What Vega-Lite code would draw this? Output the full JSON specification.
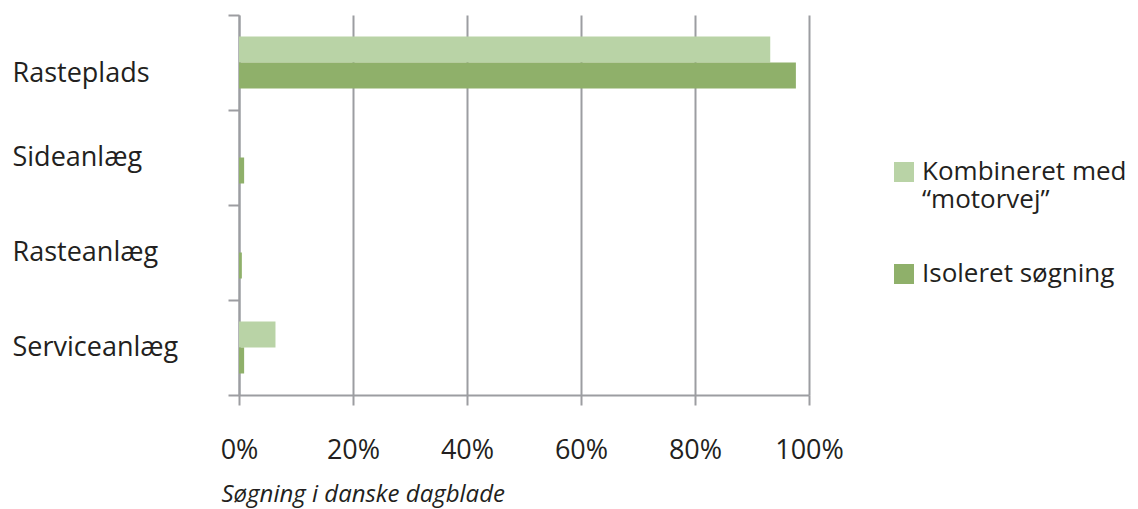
{
  "$schema": "https://vega.github.io/schema/vega-lite/v6.json",
  "width": 570,
  "height": 380,
  "autosize": "none",
  "padding": {"left": 239, "top": 15, "right": 329, "bottom": 114},
  "background": "white",
  "data": {
    "values": [
      {"kategori": "Rasteplads", "serie": "Kombineret med “motorvej”", "andel": 0.932},
      {"kategori": "Rasteplads", "serie": "Isoleret søgning", "andel": 0.977},
      {"kategori": "Sideanlæg", "serie": "Kombineret med “motorvej”", "andel": 0.0},
      {"kategori": "Sideanlæg", "serie": "Isoleret søgning", "andel": 0.009},
      {"kategori": "Rasteanlæg", "serie": "Kombineret med “motorvej”", "andel": 0.0},
      {"kategori": "Rasteanlæg", "serie": "Isoleret søgning", "andel": 0.005},
      {"kategori": "Serviceanlæg", "serie": "Kombineret med “motorvej”", "andel": 0.064},
      {"kategori": "Serviceanlæg", "serie": "Isoleret søgning", "andel": 0.009}
    ]
  },
  "mark": {"type": "bar"},
  "encoding": {
    "y": {
      "field": "kategori",
      "type": "nominal",
      "sort": ["Rasteplads", "Sideanlæg", "Rasteanlæg", "Serviceanlæg"],
      "scale": {"paddingInner": 0, "paddingOuter": 0},
      "axis": {
        "title": null,
        "tickBand": "extent",
        "domainColor": "#9c9da1",
        "domainWidth": 2,
        "tickColor": "#9c9da1",
        "tickWidth": 2,
        "tickSize": 11,
        "labelAlign": "left",
        "labelPadding": 216,
        "labelFontSize": 27,
        "labelColor": "#231f20",
        "labelLimit": 300,
        "labelOffset": {"condition": {"test": "datum.value === 'Rasteplads'", "value": 11}, "value": 0},
        "grid": false
      }
    },
    "yOffset": {
      "field": "serie",
      "sort": ["Kombineret med “motorvej”", "Isoleret søgning"],
      "scale": {"paddingInner": 0, "paddingOuter": 0.827}
    },
    "x": {
      "field": "andel",
      "type": "quantitative",
      "scale": {"domain": [0, 1]},
      "axis": {
        "values": [0, 0.2, 0.4, 0.6, 0.8, 1],
        "format": ".0%",
        "grid": true,
        "gridColor": "#9c9da1",
        "gridWidth": 2,
        "domainColor": "#9c9da1",
        "domainWidth": 2,
        "tickColor": "#9c9da1",
        "tickWidth": 2,
        "tickSize": 10,
        "labelFontSize": 27,
        "labelPadding": 32,
        "labelColor": "#231f20",
        "labelFlush": false,
        "title": "Søgning i danske dagblade",
        "titleFontStyle": "italic",
        "titleFontWeight": "normal",
        "titleFontSize": 24,
        "titleColor": "#231f20",
        "titleAnchor": "start",
        "titleAlign": "left",
        "titleBaseline": "alphabetic",
        "titleX": -18,
        "titleY": 106
      }
    },
    "color": {
      "field": "serie",
      "type": "nominal",
      "scale": {
        "domain": ["Kombineret med “motorvej”", "Isoleret søgning"],
        "range": ["#b9d3a6", "#8fb06a"]
      },
      "legend": {
        "title": null,
        "orient": "none",
        "legendX": 652,
        "legendY": 144,
        "symbolType": "square",
        "symbolSize": 400,
        "symbolStrokeWidth": 0,
        "labelFontSize": 26,
        "labelColor": "#231f20",
        "labelOffset": 5,
        "labelLimit": 300,
        "labelBaseline": "middle",
        "rowPadding": 48,
        "labelExpr": "datum.label == 'Kombineret med “motorvej”' ? ['Kombineret med', '“motorvej”'] : datum.label"
      }
    }
  },
  "config": {
    "view": {"stroke": null},
    "font": "Open Sans"
  }
}
